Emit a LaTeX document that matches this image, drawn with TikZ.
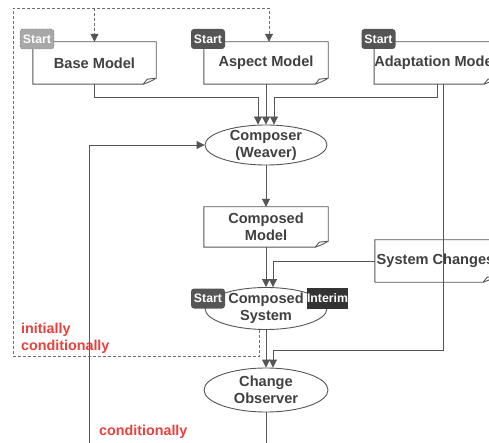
\documentclass[tikz,border=0pt]{standalone}
\usepackage{fontspec}
\setmainfont{Liberation Sans}
\usetikzlibrary{arrows.meta,shapes.geometric}
\definecolor{ink}{HTML}{404040}
\definecolor{wire}{HTML}{555555}
\definecolor{tagdark}{HTML}{555555}
\definecolor{tagblack}{HTML}{333333}
\definecolor{taglight}{HTML}{A8A8A8}
\definecolor{loopgray}{HTML}{6E6E6E}
\definecolor{note}{HTML}{E8403C}

% document-shaped frame with a small folded corner at the bottom right
\newcommand\docframe[1]{%
  \draw[wire] (#1.north west) -- (#1.north east) -- ([yshift=6pt]#1.south east)
    .. controls ([xshift=-5pt,yshift=3pt]#1.south east) .. ([xshift=-13pt]#1.south east)
    -- (#1.south west) -- cycle;
  \draw[wire] ([xshift=-13pt]#1.south east) -- ([xshift=-9pt,yshift=5pt]#1.south east)
    -- ([yshift=6pt]#1.south east);
}

\begin{document}
\begin{tikzpicture}[x=1pt,y=-1pt,
  labelfont/.style={font=\bfseries\fontsize{14.6}{17}\selectfont},
  doc/.style={rectangle, minimum height=42pt, inner sep=0pt, text=ink, labelfont, align=center},
  oval/.style={ellipse, draw=wire, line width=0.9pt, minimum width=122pt, minimum height=40pt,
    inner sep=-8pt, text=ink, labelfont, align=center},
  tag/.style={rectangle, rounded corners=3pt, fill=tagdark, text=white,
    font=\bfseries\fontsize{12.3}{14}\selectfont, minimum width=34pt, minimum height=20pt, inner sep=0pt},
  wire/.style={draw=wire, line width=0.9pt},
  tip/.style={-{Triangle[width=8pt,length=8pt,color=wire]}},
  flow/.style={wire, tip},
  loopline/.style={draw=loopgray, line width=0.9pt, dash pattern=on 3pt off 2pt, tip},
  notetext/.style={text=note, font=\bfseries\fontsize{14.3}{17}\selectfont, anchor=west,
    inner sep=0pt, align=left},
]
\useasboundingbox (0,0) rectangle (489,443);
\clip (0,0) rectangle (489,443);

% models
\node[doc, minimum width=123pt] (base) at (94.5,63) {Base Model};
\node[doc, minimum width=124pt] (aspect) at (266,63) {Aspect Model};
\node[doc, minimum width=121pt] (adapt) at (435.5,63) {Adaptation Model};
\node[doc, minimum width=124pt, minimum height=40pt] (cmodel) at (266,227) {Composed\\Model};
\node[doc, minimum width=121pt] (changes) at (435.5,261) {System Changes};

% processes
\node[oval] (composer) at (266,145) {Composer\\(Weaver)};
\node[oval, minimum height=42pt] (csystem) at (266,308.5) {Composed\\System};
\node[oval, minimum width=124pt, minimum height=44pt] (observer) at (266,390) {Change\\Observer};

\docframe{base}
\docframe{aspect}
\docframe{adapt}
\docframe{cmodel}
\docframe{changes}

% free ends at the lower edge
\coordinate (lowleft) at (89,443);
\coordinate (lowmid) at (266,443);

% composition flow
\draw[flow] (base.south) -- ++(0,13) -| ([xshift=-8pt]composer.north);
\draw[flow] (aspect.south) -- (composer.north);
\draw[flow] ([xshift=1.5pt]adapt.south) -- ++(0,13) -| ([xshift=8pt]composer.north);
\draw[flow] (lowleft) |- (composer.west);
\draw[flow] (composer.south) -- (cmodel.north);
\draw[flow] (cmodel.south) -- (csystem.north);
\draw[flow] (changes.west) -| ([xshift=7pt]csystem.north);
\draw[flow] (csystem.south) -- (observer.north);
\draw[flow] ([xshift=7.5pt]adapt.south) -- ++(0,266) -| ([xshift=7pt]observer.north);
\draw[wire] (observer.south) -- (lowmid);

% feedback loop
\draw[loopline] ([xshift=-7pt]csystem.south) -- ++(0,26.5) -| (13,8) -| ([xshift=3pt]aspect.north);
\draw[loopline] (base.north |- 0,8) -- (base.north);

% tags
\node[tag, fill=taglight, draw=loopgray, dash pattern=on 2pt off 1.5pt] (tbase) at (37,39) {Start};
\node[tag] (taspect) at (208,39) {Start};
\node[tag] (tadapt) at (378.5,39) {Start};
\node[tag] (tsystem) at (208,298.5) {Start};
\node[tag, fill=tagblack, rounded corners=0pt, minimum width=41pt, minimum height=21pt] (tinterim) at (327.5,298.5) {Interim};

% annotations
\node[notetext] (note1) at (21,338) {initially\\conditionally};
\node[notetext] (note2) at (99,432) {conditionally};
\end{tikzpicture}
\end{document}
